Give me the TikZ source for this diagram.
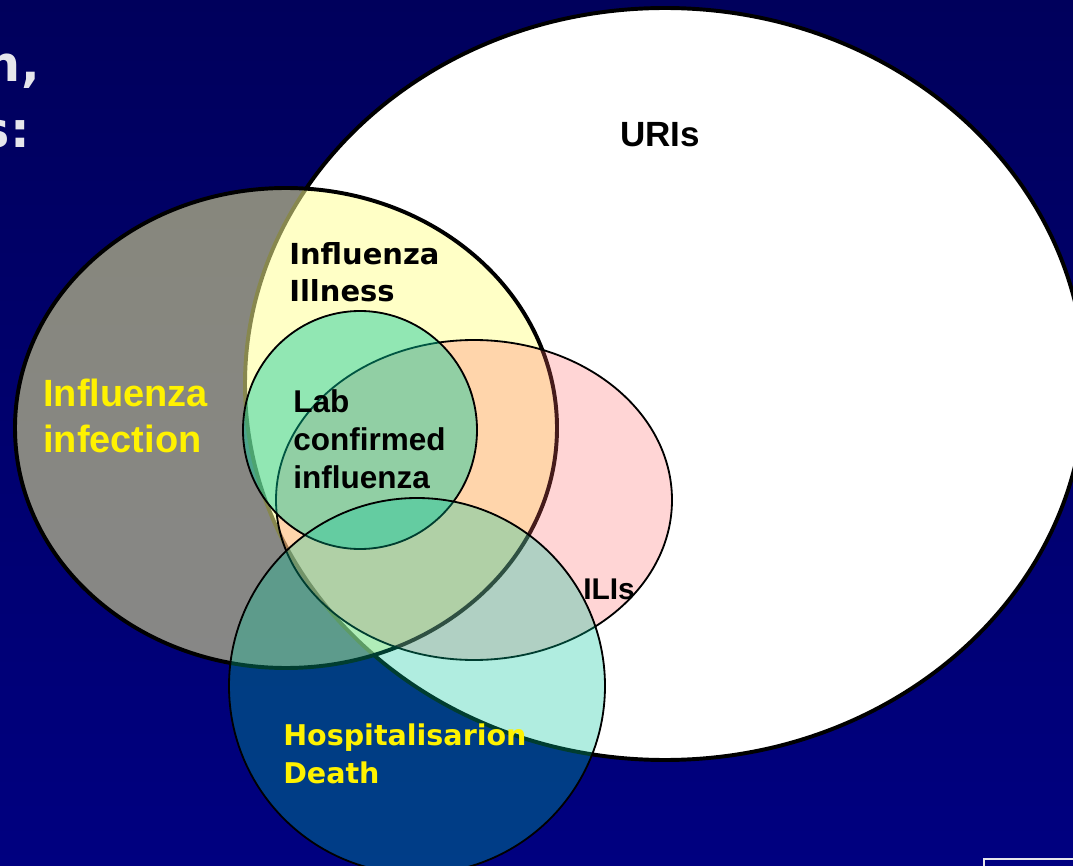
\documentclass[tikz,border=0pt]{standalone}
\usepackage{fontspec}
\setmainfont{Liberation Sans}
\newfontfamily\widefont{DejaVu Sans}
\usetikzlibrary{positioning}

\definecolor{navytop}{RGB}{0,0,92}
\definecolor{navybot}{RGB}{0,0,128}
\definecolor{infectfill}{RGB}{255,255,148}
\definecolor{ilifill}{RGB}{255,100,100}
\definecolor{seagreen}{RGB}{0,200,155}
\definecolor{titlegrey}{RGB}{230,230,236}

\tikzset{
    bigset/.style={
           draw=black,
           line width=2.8pt,
           },
    subset/.style={
           draw=black,
           line width=1.3pt,
           },
    setlabel/.style={
           inner sep=0pt,
           anchor=base west,
           align=left,
           text=black,
           },
}

\begin{document}
\begin{tikzpicture}[x=0.025cm,y=-0.025cm]
  % picture frame, 1073 x 866 px
  \useasboundingbox (0,0) rectangle (1073,866);
  \clip (0,0) rectangle (1073,866);
  \shade[top color=navytop, bottom color=navybot] (0,0) rectangle (1073,866);

  % remains of the slide title
  \node[setlabel, anchor=base east, text=titlegrey,
        font=\widefont\bfseries\fontsize{35}{42}\selectfont] (TITLEA) at (40,82) {n,};
  \node[setlabel, anchor=base east, text=titlegrey,
        font=\widefont\bfseries\fontsize{35}{42}\selectfont] (TITLEB) at (30,148) {s:};

  % the sets, back to front
  \draw[bigset, fill=white] (665,384) ellipse [x radius=420, y radius=376];
  \draw[bigset, fill=infectfill, fill opacity=0.53] (286,428) ellipse [x radius=271, y radius=240];
  \draw[subset, fill=ilifill, fill opacity=0.27] (474,500) ellipse [x radius=198, y radius=160];
  \draw[subset, fill=seagreen, fill opacity=0.43] (360,430) ellipse [x radius=117, y radius=119];
  \draw[subset, fill=seagreen, fill opacity=0.31] (417,686) circle [radius=188];

  % slide number box
  \draw[titlegrey, line width=1.6pt] (984,859) rectangle (1100,900);

  % labels (base of a multi-line node = its last line)
  \node[setlabel, font=\bfseries\fontsize{24.9}{30}\selectfont] (URIS) at (620,147) {URIs};
  \node[setlabel, font=\widefont\bfseries\fontsize{20.6}{27}\selectfont] (ILLNESS) at (289,302)
    {Influenza\\Illness};
  \node[setlabel, font=\bfseries\fontsize{22.4}{26.7}\selectfont] (LAB) at (293,488)
    {Lab\\confirmed\\influenza};
  \node[setlabel, text=yellow, font=\bfseries\fontsize{27}{32.7}\selectfont] (INFECTION) at (43,452)
    {Influenza\\infection};
  \node[setlabel, font=\bfseries\fontsize{21.3}{26}\selectfont] (ILIS) at (583,599) {ILIs};
  \node[setlabel, text=yellow, font=\widefont\bfseries\fontsize{20.3}{27}\selectfont] (HOSP) at (283,783)
    {Hospitalisarion\\Death};
\end{tikzpicture}
\end{document}
